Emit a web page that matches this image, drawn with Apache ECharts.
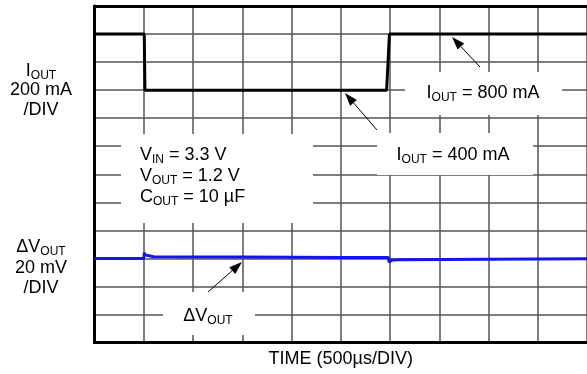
<!DOCTYPE html>
<html>
<head>
<meta charset="utf-8">
<script src="https://cdn.jsdelivr.net/npm/echarts@6/dist/echarts.min.js"></script>
<style>
  html, body { margin: 0; padding: 0; background: #fff; }
  #chart { width: 587px; height: 374px; }
</style>
</head>
<body>
<div id="chart"></div>
<script>
// Load-transient capture: output current step and the regulator's output deviation.
const FONT = '"Liberation Sans", Arial, sans-serif';

// Time axis, microseconds (500 µs per division, 10 divisions)
const timeMin = 0;
const timeMax = 5000;
const timeStep = 500;

// Output current trace (mA), 200 mA per division
const iTime = [0, 505, 512, 2966, 2994, 5000];
const iOut = [800, 800, 400, 400, 800, 800];
const iMin = -1400, iMax = 1000, iStep = 200;

// Output voltage deviation trace (mV), 20 mV per division
const vTime = [0, 500, 506, 512, 530, 600, 1500, 2500, 2984, 2990, 2998, 3020, 3100, 4000, 5000];
const vOut = [0, 0, 4.0, 2.5, 1.6, 1.1, 1.0, 0.7, 0.7, -2.6, -1.8, -1.2, -0.9, -0.6, -0.3];
const vMin = -60, vMax = 180, vStep = 20;

const chart = echarts.init(document.getElementById('chart'), null, { renderer: 'canvas' });

const mainStyle = { fontSize: 18, fontFamily: FONT, color: '#000', lineHeight: 22 };
const subStyle = { fontSize: 12, fontFamily: FONT, color: '#000', lineHeight: 10, verticalAlign: 'bottom' };

function txt(x, y, text, align) {
  return {
    type: 'text', x: x, y: y, z: 20,
    style: {
      text: text, align: align || 'center', verticalAlign: 'middle',
      font: '18px ' + FONT, fill: '#000',
      rich: { m: mainStyle, s: subStyle }
    }
  };
}

function box(x, y, w, h) {
  return { type: 'rect', z: 15, shape: { x: x, y: y, width: w, height: h }, style: { fill: '#fff' } };
}

function arrow(tail, tip) {
  const dx = tip[0] - tail[0], dy = tip[1] - tail[1];
  const len = Math.sqrt(dx * dx + dy * dy);
  const ux = dx / len, uy = dy / len;
  const hl = 13, hw = 4.5;
  const bx = tip[0] - ux * hl, by = tip[1] - uy * hl;
  return [
    { type: 'line', z: 20, shape: { x1: tail[0], y1: tail[1], x2: bx, y2: by }, style: { stroke: '#000', lineWidth: 1 } },
    { type: 'polygon', z: 20, shape: { points: [tip, [bx - uy * hw, by + ux * hw], [bx + uy * hw, by - ux * hw]] }, style: { fill: '#000' } }
  ];
}

const splitStyle = { show: true, lineStyle: { color: '#555', width: 1.5 } };
const frameLine = { show: true, onZero: false, lineStyle: { color: '#000', width: 3 } };
const hidden = { show: false };

const option = {
  animation: false,
  backgroundColor: '#fff',
  grid: { left: 94.5, top: 6, width: 494, height: 336.5, show: false },
  xAxis: [
    {
      type: 'value', position: 'bottom', min: timeMin, max: timeMax, interval: timeStep,
      axisLine: frameLine, axisTick: hidden, axisLabel: hidden,
      splitLine: splitStyle,
      name: 'TIME (500µs/DIV)', nameLocation: 'middle', nameGap: 8,
      nameTextStyle: { fontSize: 18, fontFamily: FONT, color: '#000', verticalAlign: 'top' }
    },
    {
      type: 'value', position: 'top', min: timeMin, max: timeMax, interval: timeStep,
      axisLine: frameLine, axisTick: hidden, axisLabel: hidden, splitLine: hidden
    }
  ],
  yAxis: [
    {
      type: 'value', position: 'left', min: iMin, max: iMax, interval: iStep,
      axisLine: frameLine, axisTick: hidden, axisLabel: hidden,
      splitLine: splitStyle
    },
    {
      type: 'value', position: 'left', min: vMin, max: vMax, interval: vStep,
      axisLine: hidden, axisTick: hidden, axisLabel: hidden, splitLine: hidden
    }
  ],
  series: [
    {
      name: 'IOUT', type: 'line', xAxisIndex: 0, yAxisIndex: 0, showSymbol: false, z: 5,
      data: iTime.map((t, k) => [t, iOut[k]]),
      lineStyle: { color: '#000', width: 3 }
    },
    {
      name: 'ΔVOUT', type: 'line', xAxisIndex: 0, yAxisIndex: 1, showSymbol: false, z: 5,
      data: vTime.map((t, k) => [t, vOut[k]]),
      lineStyle: { color: '#1414ee', width: 3 }
    }
  ],
  graphic: [
    // left-hand scale captions
    txt(41, 71, '{m|I}{s|OUT}'),
    txt(41, 90, '{m|200 mA}'),
    txt(41, 110, '{m|/DIV}'),
    txt(41, 247, '{m|ΔV}{s|OUT}'),
    txt(41, 268, '{m|20 mV}'),
    txt(41, 288, '{m|/DIV}'),
    // annotation boxes
    box(405, 72, 157, 43),
    txt(483, 93, '{m|I}{s|OUT}{m| = 800 mA}'),
    box(377, 133, 156, 42),
    txt(453, 155, '{m|I}{s|OUT}{m| = 400 mA}'),
    box(121, 134, 192, 89),
    txt(140, 155, '{m|V}{s|IN}{m| = 3.3 V}', 'left'),
    txt(140, 176, '{m|V}{s|OUT}{m| = 1.2 V}', 'left'),
    txt(140, 197, '{m|C}{s|OUT}{m| = 10 µF}', 'left'),
    box(163, 292, 92, 43),
    txt(208, 316, '{m|ΔV}{s|OUT}'),
    ...arrow([480, 67], [452, 37]),
    ...arrow([377, 130], [345, 93]),
    ...arrow([208, 292], [242, 262])
  ]
};

chart.setOption(option);
</script>
</body>
</html>
